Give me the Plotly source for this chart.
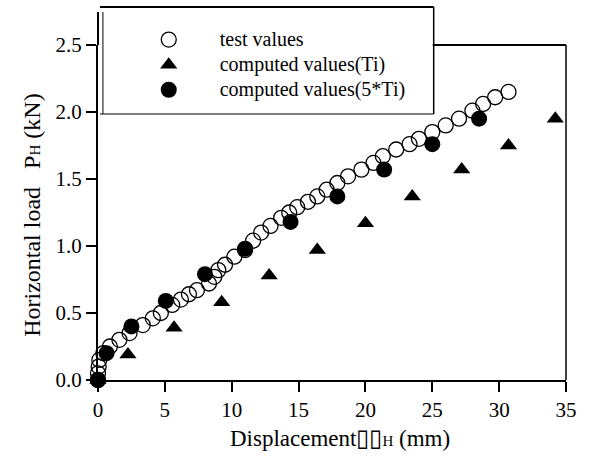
import plotly.graph_objects as go

# ---- data ----
test_x = [0.0, 0.0, 0.05, 0.1, 0.4, 0.89, 1.6, 2.36, 3.35, 4.1, 4.7, 5.55, 6.2, 6.8,
          7.4, 8.3, 8.7, 9.0, 9.5, 10.2, 11.0, 11.6, 12.2, 12.9, 13.7, 14.3, 14.9,
          15.7, 16.4, 17.1, 17.9, 18.7, 19.7, 20.6, 21.3, 22.3, 23.3, 24.0, 25.0,
          26.0, 27.0, 28.0, 28.8, 29.7, 30.7]
test_y = [0.0, 0.05, 0.10, 0.15, 0.20, 0.25, 0.30, 0.35, 0.41, 0.46, 0.50, 0.56, 0.60,
          0.64, 0.67, 0.72, 0.77, 0.82, 0.86, 0.92, 0.97, 1.04, 1.10, 1.15, 1.21, 1.25,
          1.29, 1.33, 1.37, 1.42, 1.47, 1.52, 1.57, 1.62, 1.67, 1.72, 1.76, 1.80, 1.85,
          1.90, 1.95, 2.01, 2.06, 2.11, 2.15]

ti_x = [0.0, 2.24, 5.69, 9.25, 12.8, 16.4, 20.0, 23.5, 27.2, 30.7, 34.2]
ti_y = [0.0, 0.19, 0.39, 0.58, 0.78, 0.97, 1.17, 1.37, 1.57, 1.75, 1.95]

ti5_x = [0.0, 0.64, 2.5, 5.07, 8.0, 11.0, 14.4, 17.9, 21.4, 25.0, 28.5]
ti5_y = [0.0, 0.20, 0.40, 0.59, 0.79, 0.98, 1.18, 1.37, 1.57, 1.76, 1.95]

x_ticks = [0, 5, 10, 15, 20, 25, 30, 35]
y_ticks = [0.0, 0.5, 1.0, 1.5, 2.0, 2.5]
y_tick_labels = ["0.0", "0.5", "1.0", "1.5", "2.0", "2.5"]

names = ["test values", "computed values(Ti)", "computed values(5*Ti)"]

# ---- figure ----
W, H = 589, 457
L, R, T, B = 98, 572, 45, 380   # plot area in pixels

def px(xp):
    return (xp - L) / (R - L)

def py(yp):
    return (B - yp) / (B - T)

FONT = "Liberation Serif"

def leg(name):
    return "<span style='font-size:20px'>" + name + "</span>"

fig = go.Figure()
fig.add_trace(go.Scatter(
    x=test_x, y=test_y, mode="markers", name=leg(names[0]), cliponaxis=False,
    marker=dict(symbol="circle-open", size=15, color="black", line=dict(width=1.3, color="black"))))
fig.add_trace(go.Scatter(
    x=ti_x, y=ti_y, mode="markers", name=leg(names[1]), cliponaxis=False,
    marker=dict(symbol="triangle-up", size=15, color="black")))
fig.add_trace(go.Scatter(
    x=ti5_x, y=ti5_y, mode="markers", name=leg(names[2]), cliponaxis=False,
    marker=dict(symbol="circle", size=16, color="black")))

shapes = [
    # legend box
    dict(type="line", xref="paper", yref="paper", x0=px(100), x1=px(438), y0=py(7), y1=py(7),
         line=dict(color="black", width=2)),
    dict(type="line", xref="paper", yref="paper", x0=px(438), x1=px(438), y0=py(7), y1=py(114),
         line=dict(color="black", width=1.5)),
    dict(type="line", xref="paper", yref="paper", x0=px(100), x1=px(438), y0=py(114), y1=py(114),
         line=dict(color="black", width=1.2)),
    dict(type="line", xref="paper", yref="paper", x0=px(103), x1=px(103), y0=py(12), y1=py(114),
         line=dict(color="black", width=1)),
    # left axis extension
    dict(type="line", xref="paper", yref="paper", x0=0, x1=0, y0=1, y1=py(12),
         line=dict(color="black", width=2)),
    # partial top frame and right frame
    dict(type="line", xref="paper", yref="paper", x0=px(437), x1=1, y0=1, y1=1,
         line=dict(color="black", width=2)),
    dict(type="line", xref="paper", yref="paper", x0=1, x1=1, y0=1, y1=0,
         line=dict(color="black", width=1.5)),
]

annotations = [
    dict(xref="paper", yref="paper", x=px(343), y=py(438), xanchor="center", yanchor="middle",
         showarrow=False, font=dict(family=FONT, size=23, color="black"),
         text="Displacement<span style='font-size:24px'>\u25af\u25af</span>"
              "<span style='font-size:15px'>H</span> (mm)"),
    dict(xref="paper", yref="paper", x=px(31), y=py(215), xanchor="center", yanchor="middle",
         showarrow=False, textangle=-90, font=dict(family=FONT, size=24, color="black"),
         text="Horizontal load\u00a0\u00a0\u00a0P<span style='font-size:15px'>H</span> (kN)"),
]

fig.update_layout(
    width=W, height=H,
    margin=dict(l=L, r=W - R, t=T, b=H - B),
    paper_bgcolor="white", plot_bgcolor="white",
    showlegend=True,
    legend=dict(x=px(118), y=py(22), xanchor="left", yanchor="top",
                bgcolor="rgba(0,0,0,0)", borderwidth=0, itemwidth=92,
                font=dict(family=FONT, size=17, color="black"), tracegroupgap=0),
    shapes=shapes, annotations=annotations,
    font=dict(family=FONT, color="black"),
)
fig.update_xaxes(range=[0, 35], tickvals=x_ticks, ticks="outside", ticklen=10, tickwidth=1.5,
                 tickcolor="black", showline=True, linecolor="black", linewidth=2,
                 showgrid=False, zeroline=False, tickfont=dict(family=FONT, size=21, color="black"))
fig.update_yaxes(range=[0, 2.5], tickvals=y_ticks, ticktext=y_tick_labels, ticks="outside",
                 ticklen=10, tickwidth=1.5, tickcolor="black", showline=True, linecolor="black",
                 linewidth=2, showgrid=False, zeroline=False,
                 tickfont=dict(family=FONT, size=21, color="black"))

fig.write_html("out.html")
